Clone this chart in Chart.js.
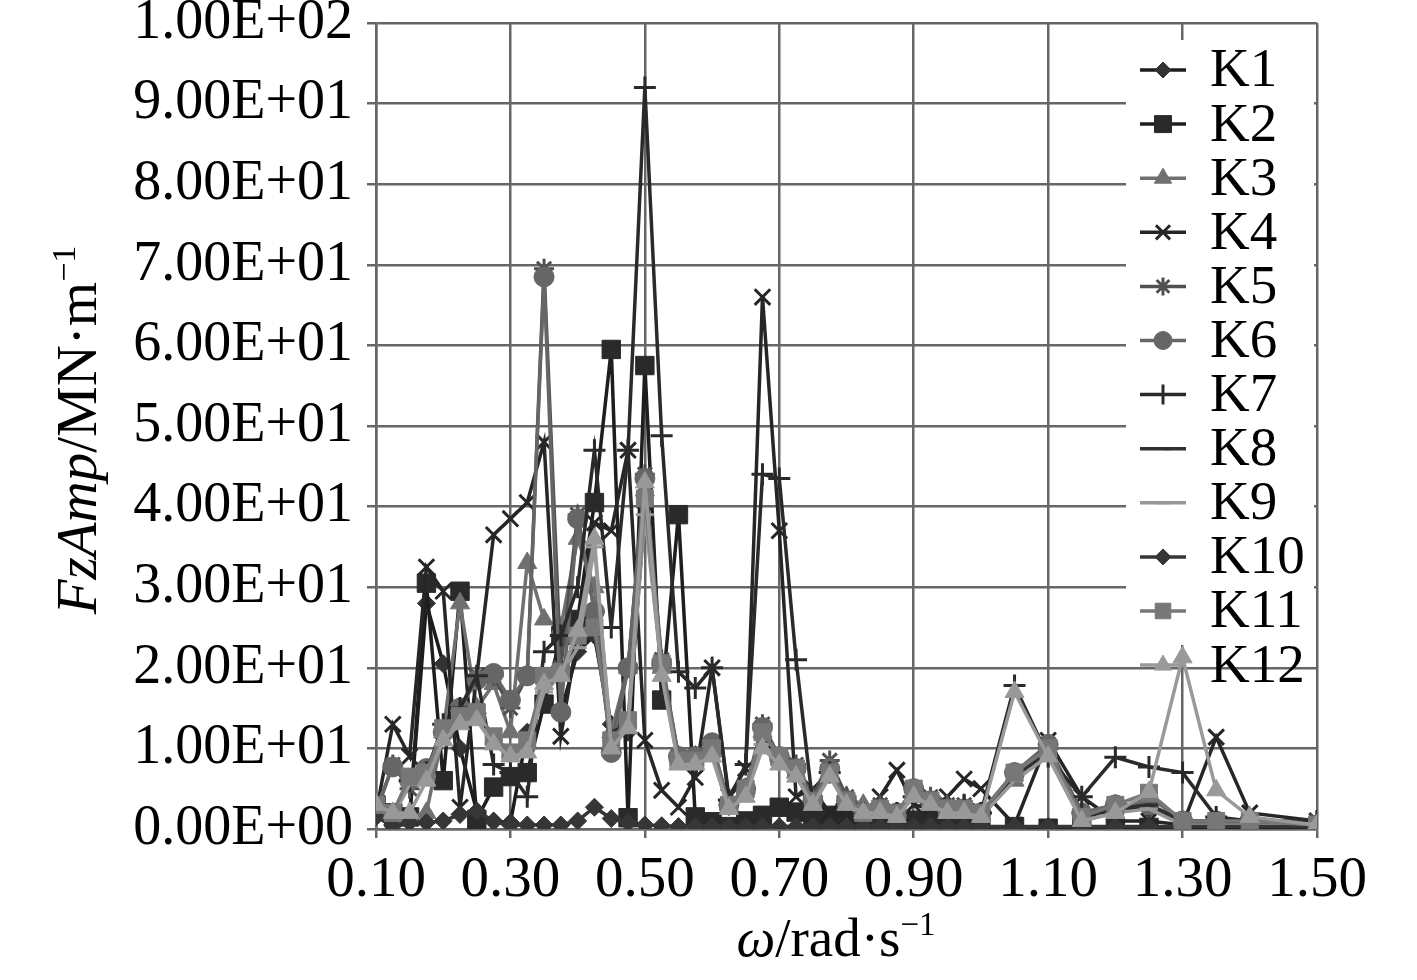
<!DOCTYPE html>
<html>
<head>
<meta charset="utf-8">
<script src="https://cdn.jsdelivr.net/npm/chart.js@4"></script>
<style>
html,body{margin:0;padding:0;background:#fff;}
#wrap{width:1417px;height:980px;}
</style>
</head>
<body>
<div id="wrap"><canvas id="c" width="1417" height="980"></canvas></div>
<script>
// ---- data ----
const omega = [0.1,0.125,0.15,0.175,0.2,0.225,0.25,0.275,0.3,0.325,0.35,0.375,0.4,0.425,0.45,0.475,0.5,0.525,0.55,0.575,0.6,0.625,0.65,0.675,0.7,0.725,0.75,0.775,0.8,0.825,0.85,0.875,0.9,0.925,0.95,0.975,1.0,1.05,1.1,1.15,1.2,1.25,1.3,1.35,1.4,1.5];

const K1 = [1.8,0.6,1.2,28,20.5,10,2.2,1.0,0.8,12, 16,14.5,22,24,13,12,40,20,8.5,8.5, 9.5,2.8,4.5,11.5,8.5,7,3.2,7,3.2,1.8, 2.2,1.8,4.5,3.2,2.2,2.2,1.8,6.5,9.8,1.2, 2.5,2.5,0.8,0.8,0.8,0.5];
const K2 = [3,2,1.5,30.5,6,29.5,1.2,5.2,6.5,7, 15.5,24,26,40.5,59.5,1.4,57.5,16,39,1.5, 0.9,0.3,1,1.7,2.7,2.1,1.2,1.7,1.2,0.8, 0.5,0.3,1.1,1.1,0.3,0.2,0.2,0.3,0.1,0.2, 0.2,0.2,0.2,0.2,0.2,0.2];
const K3 = [3,1.5,1.5,2,12,28,15,18,12,33, 26,25,36,30,12,20,42,20,9,9, 10,3,5,12,9,7,3,7,4,3, 2,2,4,3,2,2,2,6,10,2, 2,4,1,1,1,0.5];
const K4 = [2,13,9,32.5,29.5,2.7,19,36.5,38.5,40.5, 48,11.5,24,38,37,47,11,4.8,2.7,6.4, 20,4,7.5,66,37,4,5,2,1.5,2, 4,7.3,3,2.5,4,6.2,5,0.5,11,4, 1,1,0.5,11.4,2,1];
const K5 = [2,8,5,7,12,15,19,19,15,19, 69.5,20,39,27,10,20,44,21,9,9, 10.5,3,5,13,9,8,4,8.5,4,2, 3,2,5,4,3,3,2,7,10,2, 3,3,1,1,1,1];
const K6 = [2.5,7.7,6,7.5,12,15,18.5,19.3,16,19, 68.5,14.5,38.5,27,9.5,20,43.5,20.5,9,9, 10.7,3,5,12.6,9,7.5,3.5,7.5,3.5,2, 2.5,2,5,3.5,2.5,2.5,2,7,10.5,2, 3,3,1,1,1,0.5];
const K7 = [2,1.5,6,7,13,15,19,8,7,4, 22,24,30,47,25,47,92,48.8,19.5,17.5, 20,3.6,8,44,43.5,21,3,7,3,2, 2,2,4,3,2,3,2,17.8,9,4, 8.9,7.7,7,1.5,1,1];
const K8 = [2,1.5,6,7,12,14,14,11,9,10, 18,20,23,24,12,13,40,20,8.5,8.5, 9.5,3,4.5,11,8.5,7,3.5,7,3.5,2, 2.5,2,4.5,3.5,2.5,2.5,2,6.5,9.5,1.5, 2.5,3,1,1,1,0.5];
const K9 = [2.5,1.5,5.5,6.5,11.5,13.5,13.5,10.5,9,10, 17,19,22.5,35,11,12.5,39,19.5,8,8, 9,2.5,4,10.5,8,6.5,3,6.5,3,1.5, 2,1.5,4,3,2,2,1.5,6,9,1, 2,2.5,0.5,0.5,0.5,0.3];
const K10 = [1.5,0.4,0.8,0.8,1,1.8,2.2,0.9,0.5,0.5, 0.5,0.5,1,2.7,1.3,0.8,0.5,0.4,0.3,0.3, 0.3,0.3,0.3,0.3,0.3,0.3,0.3,0.3,0.3,0.3, 0.3,0.3,0.3,0.3,0.3,0.3,0.3,0.3,0.3,0.3, 0.3,0.3,0.3,0.3,0.3,0.3];
const K11 = [3,2,6.5,7,12.5,14,14.5,11.5,9.5,11, 19,19.5,24,25,11,13.5,41,20.5,8.5,8.5, 10,3,5,12,9,7.5,3.5,7,3.5,2, 2.5,2,5,3.5,2.5,2.5,2,7,10,1.5, 3,4.5,1,1,1,0.5];
const K12 = [3,2,2,6,11,13,13.5,10.5,9,9.5, 18,19,24.6,36,10,12.5,43,19,8,8, 9,2.5,4,10,8,6.5,3,6.5,3,2, 2,1.5,4,3,2,2,1.5,17,9,1, 2,4.6,21.3,4.8,1.5,0.5];

const seriesNames = ['K1','K2','K3','K4','K5','K6','K7','K8','K9','K10','K11','K12'];
const seriesValues = [K1,K2,K3,K4,K5,K6,K7,K8,K9,K10,K11,K12];

const xTicks = [0.1,0.3,0.5,0.7,0.9,1.1,1.3,1.5];
const xTickLabels = ['0.10','0.30','0.50','0.70','0.90','1.10','1.30','1.50'];
const yTicks = [0,10,20,30,40,50,60,70,80,90,100];
const yTickLabels = ['0.00E+00','1.00E+01','2.00E+01','3.00E+01','4.00E+01','5.00E+01','6.00E+01','7.00E+01','8.00E+01','9.00E+01','1.00E+02'];

// ---- styles ----
const styles = [
  {line:'#1c1c1c', point:'#333333', shape:'rectRot', r:9},
  {line:'#1e1e1e', point:'#2a2a2a', shape:'rect', r:13},
  {line:'#707070', point:'#707070', shape:'triangle', r:11},
  {line:'#262626', point:'#262626', shape:'crossRot', r:11},
  {line:'#505050', point:'#505050', shape:'star', r:10},
  {line:'#666666', point:'#666666', shape:'circle', r:10},
  {line:'#2a2a2a', point:'#2a2a2a', shape:'cross', r:11},
  {line:'#303030', point:'#303030', shape:'dash', r:9},
  {line:'#979797', point:'#979797', shape:'line', r:9},
  {line:'#363636', point:'#363636', shape:'rectRot', r:9},
  {line:'#777777', point:'#777777', shape:'rect', r:12},
  {line:'#999999', point:'#999999', shape:'triangle', r:11}
];
const FAM = "'Liberation Serif','Times New Roman',serif";

const datasets = seriesNames.map((name, i) => {
  const s = styles[i];
  const cross = ['cross','crossRot','star','dash','line'].includes(s.shape);
  return {
    label: name,
    data: omega.map((x, j) => ({x: x, y: seriesValues[i][j]})),
    borderColor: s.line,
    backgroundColor: s.point,
    borderWidth: 3.5,
    pointStyle: s.shape,
    pointRadius: s.r,
    pointBackgroundColor: s.point,
    pointBorderColor: s.point,
    pointBorderWidth: cross ? 3 : 1,
    tension: 0,
    fill: false,
    order: 11 - i
  };
});

function drawParts(ctx, parts, cx, baseline) {
  let total = 0;
  parts.forEach(p => { ctx.font = p.f; p.w = ctx.measureText(p.t).width; total += p.w; });
  let x = cx - total / 2;
  ctx.textAlign = 'left';
  ctx.textBaseline = 'alphabetic';
  parts.forEach(p => { ctx.font = p.f; ctx.fillText(p.t, x, baseline + p.dy); x += p.w; });
}

const bgPlugin = {
  id: 'bg',
  beforeDraw(chart) {
    const ctx = chart.ctx;
    ctx.save(); ctx.fillStyle = '#fff'; ctx.fillRect(0, 0, chart.width, chart.height); ctx.restore();
  }
};

const legendPlugin = {
  id: 'customLegend',
  afterDatasetsDraw(chart) {
    const ctx = chart.ctx;
    ctx.save();
    ctx.fillStyle = '#fff';
    ctx.fillRect(1126, 40, 188, 605);
    chart.data.datasets.forEach((ds, i) => {
      const y = 70 + i * 54.1;
      ctx.strokeStyle = ds.borderColor;
      ctx.lineWidth = 3.5;
      ctx.beginPath(); ctx.moveTo(1140, y); ctx.lineTo(1186, y); ctx.stroke();
      ctx.fillStyle = ds.pointBackgroundColor;
      ctx.strokeStyle = ds.pointBorderColor;
      ctx.lineWidth = ds.pointBorderWidth;
      if (Chart.helpers && Chart.helpers.drawPoint) {
        Chart.helpers.drawPoint(ctx, {pointStyle: ds.pointStyle, radius: ds.pointRadius - 1, rotation: 0, borderWidth: ds.pointBorderWidth}, 1163, y);
      }
      ctx.fillStyle = '#000';
      ctx.font = `55px ${FAM}`;
      ctx.textAlign = 'left';
      ctx.textBaseline = 'middle';
      ctx.fillText(ds.label, 1210, y + 2);
    });
    ctx.restore();
  }
};

const titlePlugin = {
  id: 'axisTitles',
  afterDraw(chart) {
    const ctx = chart.ctx;
    ctx.save();
    ctx.fillStyle = '#000';
    const fx = 55;
    drawParts(ctx, [
      {t:'ω', f:`italic ${fx}px ${FAM}`, dy:0},
      {t:'/rad·s', f:`${fx}px ${FAM}`, dy:0},
      {t:'−1', f:`${Math.round(fx*0.6)}px ${FAM}`, dy:-fx*0.38}
    ], 836, 956);
    ctx.restore();
    ctx.save();
    ctx.fillStyle = '#000';
    const fy = 57;
    ctx.translate(96, 430);
    ctx.rotate(-Math.PI / 2);
    drawParts(ctx, [
      {t:'FzAmp', f:`italic ${fy}px ${FAM}`, dy:0},
      {t:'/MN·m', f:`${fy}px ${FAM}`, dy:0},
      {t:'−1', f:`${Math.round(fy*0.6)}px ${FAM}`, dy:-fy*0.36}
    ], 0, 0);
    ctx.restore();
  }
};

new Chart(document.getElementById('c'), {
  type: 'line',
  data: { datasets: datasets },
  plugins: [bgPlugin, legendPlugin, titlePlugin],
  options: {
    responsive: false,
    animation: false,
    layout: { padding: { top: 23, right: 100, left: 0, bottom: 0 } },
    plugins: { legend: { display: false }, tooltip: { enabled: false } },
    scales: {
      x: {
        type: 'linear',
        min: 0.1,
        max: 1.5,
        afterBuildTicks: (s) => { s.ticks = xTicks.map(v => ({value: v})); },
        afterFit: (s) => { s.height = 151; s.paddingLeft = 0; s.paddingRight = 0; },
        ticks: {
          autoSkip: false,
          maxRotation: 0,
          padding: 9,
          color: '#000',
          font: { family: FAM, size: 57 },
          callback: (v) => xTickLabels[xTicks.indexOf(v)]
        },
        grid: { color: '#666', lineWidth: 2.5, tickLength: 9, drawTicks: true },
        border: { display: true, color: '#666', width: 2.5 }
      },
      y: {
        type: 'linear',
        min: 0,
        max: 100,
        afterBuildTicks: (s) => { s.ticks = yTicks.map(v => ({value: v})); },
        afterFit: (s) => { s.width = 376; s.paddingTop = 0; s.paddingBottom = 0; },
        ticks: {
          autoSkip: false,
          padding: 14,
          color: '#000',
          font: { family: FAM, size: 56 },
          callback: (v) => yTickLabels[yTicks.indexOf(v)]
        },
        grid: { color: '#666', lineWidth: 2.5, tickLength: 9, drawTicks: true },
        border: { display: true, color: '#666', width: 2.5 }
      }
    }
  }
});
</script>
</body>
</html>
